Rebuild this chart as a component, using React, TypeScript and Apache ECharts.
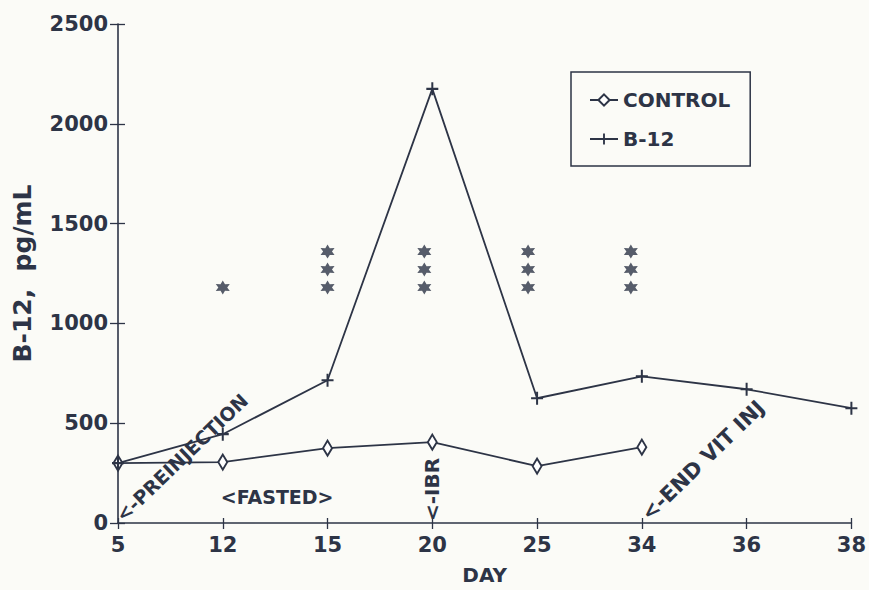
import React, { useEffect, useRef } from 'react';
import * as echarts from 'echarts';

// ---- data ----
const days = ['5', '12', '15', '20', '25', '34', '36', '38'];
const controlValues: (number | null)[] = [300, 305, 375, 405, 285, 380, null, null];
const b12Values: number[] = [300, 445, 715, 2175, 625, 735, 670, 575];
const yTickStep = 500;
const yMax = 2500;
const starDays = ['12', '15', '20', '25', '34'];
const starCounts = [1, 3, 3, 3, 3];
const starLevels = [1180, 1270, 1360];

// ---- styles ----
const INK = '#2d3446';
const BG = '#fbfbf7';
const FONT = '"DejaVu Sans", "Liberation Sans", sans-serif';
const starShiftX = [0, 0, -8, -9, -11];
const PLUS = 'path://M5,0H7V5H12V7H7V12H5V7H0V5H5Z';
const STAR =
  'path://M10,0L12.75,5.24L18.66,5L15.5,10L18.66,15L12.75,14.76L10,20L7.25,14.76L1.34,15L4.5,10L1.34,5L7.25,5.24Z';

export default function App() {
  const ref = useRef<HTMLDivElement>(null);

  useEffect(() => {
    if (!ref.current) return;
    const chart = echarts.init(ref.current, undefined, { renderer: 'svg' });

    const starData: any[] = [];
    starDays.forEach((d, i) => {
      for (let k = 0; k < starCounts[i]; k++) {
        starData.push({ value: [d, starLevels[k]], symbolOffset: [starShiftX[i], 0] });
      }
    });

    const labelStyle = { color: INK, fontFamily: FONT, fontWeight: 'bold' as const, fontSize: 21 };

    chart.setOption({
      animation: false,
      backgroundColor: BG,
      grid: { left: 118, right: 17, top: 24, bottom: 65 },
      legend: {
        data: ['CONTROL', 'B-12'],
        orient: 'vertical',
        left: 571,
        top: 72,
        padding: [18, 20, 17, 18],
        itemGap: 19,
        itemWidth: 28,
        itemHeight: 14,
        borderColor: INK,
        borderWidth: 1.5,
        textStyle: { ...labelStyle, fontSize: 20 },
      },
      xAxis: [
        {
          type: 'category',
          data: days,
          boundaryGap: false,
          position: 'bottom',
          name: 'DAY',
          nameLocation: 'middle',
          nameGap: 42,
          nameTextStyle: { ...labelStyle, fontSize: 20 },
          axisLine: { lineStyle: { color: INK, width: 1.6 } },
          axisTick: { show: true, length: 6, lineStyle: { color: INK, width: 1.3 } },
          axisLabel: { ...labelStyle, margin: 11 },
          splitLine: { show: false },
        },
        {
          type: 'category',
          data: days,
          boundaryGap: false,
          position: 'bottom',
          axisLine: { show: false },
          axisTick: { show: true, inside: true, length: 5, lineStyle: { color: INK, width: 1.3 } },
          axisLabel: { show: false },
          splitLine: { show: false },
        },
      ],
      yAxis: [
        {
          type: 'value',
          min: 0,
          max: yMax,
          interval: yTickStep,
          position: 'left',
          name: 'B-12,  pg/mL',
          nameLocation: 'middle',
          nameRotate: 90,
          nameGap: 83,
          nameTextStyle: { ...labelStyle, fontSize: 25 },
          axisLine: { show: true, lineStyle: { color: INK, width: 1.6 } },
          axisTick: { show: true, length: 8, lineStyle: { color: INK, width: 1.3 } },
          axisLabel: { ...labelStyle, margin: 10, formatter: (v: number) => String(v) },
          splitLine: { show: false },
        },
        {
          type: 'value',
          min: 0,
          max: yMax,
          interval: yTickStep,
          position: 'left',
          axisLine: { show: false },
          axisTick: { show: true, inside: true, length: 7, lineStyle: { color: INK, width: 1.3 } },
          axisLabel: { show: false },
          splitLine: { show: false },
        },
      ],
      series: [
        {
          name: 'CONTROL',
          type: 'line',
          data: controlValues,
          symbol: 'emptyDiamond',
          symbolSize: [9, 15],
          showAllSymbol: true,
          lineStyle: { color: INK, width: 1.8 },
          itemStyle: { color: INK, borderWidth: 1.4 },
          z: 3,
        },
        {
          name: 'B-12',
          type: 'line',
          data: b12Values,
          symbol: PLUS,
          symbolSize: [12, 13],
          showAllSymbol: true,
          lineStyle: { color: INK, width: 1.8 },
          itemStyle: { color: INK },
          z: 3,
        },
        {
          name: 'significance',
          type: 'scatter',
          data: starData,
          symbol: STAR,
          symbolSize: 14,
          itemStyle: { color: INK },
          z: 4,
        },
      ],
    });

    const px = (d: string, v: number) => chart.convertToPixel({ seriesIndex: 0 }, [d, v]) as number[];
    const o5 = px('5', 0);
    const o20 = px('20', 0);
    const o34 = px('34', 0);
    const f12 = px('12', 130);
    const f15 = px('15', 130);
    const txt = (text: string, x: number, y: number, rotation: number, size: number, align = 'left') => ({
      type: 'text',
      x,
      y,
      rotation,
      style: {
        text,
        fill: INK,
        fontFamily: FONT,
        fontWeight: 'bold',
        fontSize: size,
        align,
        verticalAlign: 'middle',
      },
      z: 10,
    });

    chart.setOption({
      graphic: [
        txt('<-PREINJECTION', o5[0] + 1, o5[1] - 5, 0.765, 19),
        txt('<FASTED>', (f12[0] + f15[0]) / 2 + 2, f12[1], 0, 19, 'center'),
        txt('<-IBR', o20[0], o20[1] - 2, Math.PI / 2, 20),
        txt('<-END VIT INJ', o34[0] + 3, o34[1] - 6, 0.77, 21),
      ],
    });

    return () => chart.dispose();
  }, []);

  return (
    <div
      ref={ref}
      style={{ position: 'fixed', left: 0, top: 0, width: 869, height: 590, background: BG }}
    />
  );
}
